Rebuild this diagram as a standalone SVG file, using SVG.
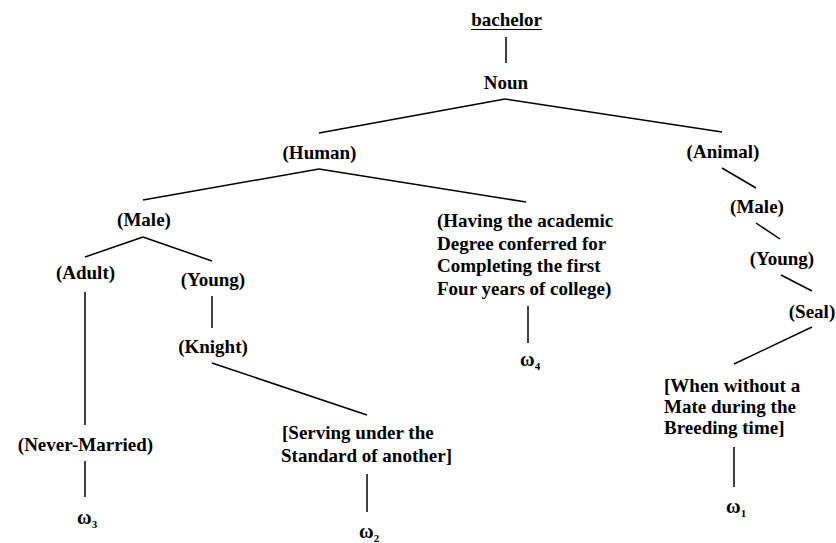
<svg xmlns="http://www.w3.org/2000/svg" width="836" height="543" viewBox="0 0 836 543">
<style>
text{font-family:"Liberation Serif","Times New Roman",serif;font-weight:bold;font-size:19px;fill:#000}
.c{text-anchor:middle}
.w{font-size:20px}
.s{font-size:11px}
line{stroke:#000;stroke-width:1.5}
</style>
<rect width="836" height="543" fill="#fff"/>
<g id="connectors">
<line x1="506" y1="37" x2="506" y2="63"/>
<line x1="319" y1="133" x2="505" y2="99"/>
<line x1="505" y1="99" x2="722" y2="132"/>
<line x1="143" y1="200" x2="319" y2="169"/>
<line x1="319" y1="169" x2="526" y2="202"/>
<line x1="85" y1="257" x2="143" y2="237"/>
<line x1="143" y1="237" x2="212" y2="261"/>
<line x1="85" y1="292" x2="85" y2="425"/>
<line x1="212" y1="296" x2="212" y2="328"/>
<line x1="212" y1="363" x2="367" y2="415"/>
<line x1="85" y1="461" x2="85" y2="497"/>
<line x1="367" y1="474" x2="367" y2="512"/>
<line x1="528" y1="306" x2="528" y2="343"/>
<line x1="722" y1="168" x2="756" y2="188"/>
<line x1="756" y1="223" x2="780" y2="239"/>
<line x1="781" y1="275" x2="812" y2="291"/>
<line x1="812" y1="327" x2="734" y2="364"/>
<line x1="734" y1="447" x2="734" y2="487"/>
</g>
<g id="bachelor"><text class="c" x="506.5" y="26">bachelor</text><line x1="471" y1="29.5" x2="542" y2="29.5" style="stroke-width:1.2"/></g>
<g id="noun"><text class="c" x="506" y="89">Noun</text></g>
<g id="human"><text class="c" x="319.5" y="159">(Human)</text></g>
<g id="animal"><text class="c" x="723" y="158">(Animal)</text></g>
<g id="male-h"><text class="c" x="144" y="226">(Male)</text></g>
<g id="having"><text x="437" y="227">(Having the academic</text><text x="437" y="249.5">Degree conferred for</text><text x="437" y="272">Completing the first</text><text x="437" y="294.5">Four years of college)</text></g>
<g id="adult"><text class="c" x="85.5" y="279">(Adult)</text></g>
<g id="young-h"><text class="c" x="213" y="286">(Young)</text></g>
<g id="knight"><text class="c" x="213" y="353">(Knight)</text></g>
<g id="never-married"><text class="c" x="85.5" y="451">(Never-Married)</text></g>
<g id="serving"><text x="282" y="439">[Serving under the</text><text x="281" y="462">Standard of another]</text></g>
<g id="male-a"><text class="c" x="757" y="213">(Male)</text></g>
<g id="young-a"><text class="c" x="782" y="265">(Young)</text></g>
<g id="seal"><text class="c" x="812" y="318">(Seal)</text></g>
<g id="when"><text x="664" y="392">[When without a</text><text x="664" y="413">Mate during the</text><text x="664" y="434">Breeding time]</text></g>
<g id="w3"><text class="w" x="77" y="524">ω<tspan class="s" dy="4">3</tspan></text></g>
<g id="w2"><text class="w" x="359" y="538">ω<tspan class="s" dy="4">2</tspan></text></g>
<g id="w4"><text class="w" x="520" y="366">ω<tspan class="s" dy="4">4</tspan></text></g>
<g id="w1"><text class="w" x="726" y="513">ω<tspan class="s" dy="4">1</tspan></text></g>
</svg>
